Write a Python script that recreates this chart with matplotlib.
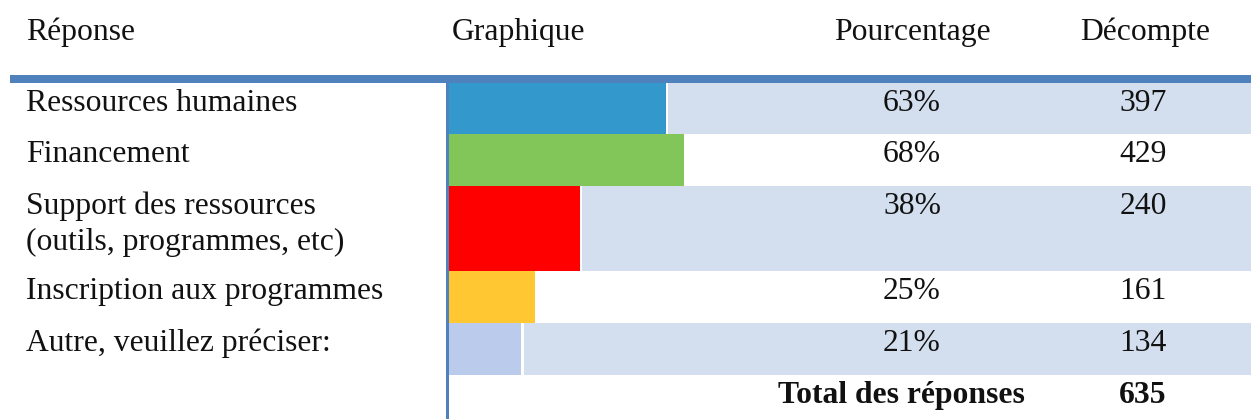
import matplotlib.pyplot as plt
from matplotlib import transforms

# données du tableau
reponses = ["Ressources humaines", "Financement",
            "Support des ressources\n(outils, programmes, etc)",
            "Inscription aux programmes", "Autre, veuillez préciser:"]
pourcentages = [63, 68, 38, 25, 21]
decomptes = [397, 429, 240, 161, 134]
total = 635
entetes = ["Réponse", "Graphique", "Pourcentage", "Décompte"]

couleurs = ["#3399cc", "#82c65a", "#ff0000", "#ffc832", "#bbcbeb"]
bande = "#d3dfee"
bleu = "#4f81bd"

plt.rcParams['font.family'] = ['Liberation Serif', 'DejaVu Serif']
taille = 22.8

W, H = 1251, 419
fig = plt.figure(figsize=(W / 100, H / 100), dpi=100)
ax = fig.add_axes([0, 0, 1, 1])
x0, echelle = 449, 3.45  # début des barres (px) et px par %
ax.set_xlim(-x0 / echelle, (W - x0) / echelle)
ax.set_ylim(H, 0)
ax.axis('off')
tr = transforms.blended_transform_factory(ax.transAxes, ax.transData)

# lignes (haut, bas) en pixels
hauts = [83, 134, 186, 271, 323]
bas = [134, 186, 271, 323, 375]
xmax = ax.get_xlim()[1]

for i, (p, c) in enumerate(zip(pourcentages, couleurs)):
    h = bas[i] - hauts[i]
    if i % 2 == 0:
        ax.barh(hauts[i], xmax - p - 0.6, left=p + 0.6, height=h,
                align='edge', color=bande, linewidth=0)
    ax.barh(hauts[i], p, left=0, height=h, align='edge', color=c, linewidth=0)

    lignes = reponses[i].split("\n")
    for k, l in enumerate(lignes):
        ax.text(26 / W, hauts[i] + 28 + 36 * k, l, transform=tr,
                fontsize=taille, va='baseline', ha='left', color='#111111')
    ax.text(912 / W, hauts[i] + 28, f"{p}%", transform=tr, fontsize=taille,
            va='baseline', ha='center', color='#111111')
    ax.text(1143 / W, hauts[i] + 28, str(decomptes[i]), transform=tr,
            fontsize=taille, va='baseline', ha='center', color='#111111')

# total
ax.text(1025 / W, 375 + 28, "Total des réponses", transform=tr, fontsize=taille,
        va='baseline', ha='right', fontweight='bold', color='#111111')
ax.text(1143 / W, 375 + 28, str(total), transform=tr, fontsize=taille,
        va='baseline', ha='center', fontweight='bold', color='#111111')

# en-têtes
pos_entetes = [(26, 'left'), (452, 'left'), (912, 'center'), (1145, 'center')]
for t, (x, a) in zip(entetes, pos_entetes):
    ax.text(x / W, 40, t, transform=tr, fontsize=taille, va='baseline', ha=a,
            color='#111111')

# traits bleus
ax.axhspan(75, 83, xmin=10 / W, xmax=1, color=bleu, linewidth=0)
ax.axvspan(-3 / echelle, 0, ymin=0, ymax=(H - 83) / H, color=bleu, linewidth=0)

fig.savefig('out.png', dpi=100)
